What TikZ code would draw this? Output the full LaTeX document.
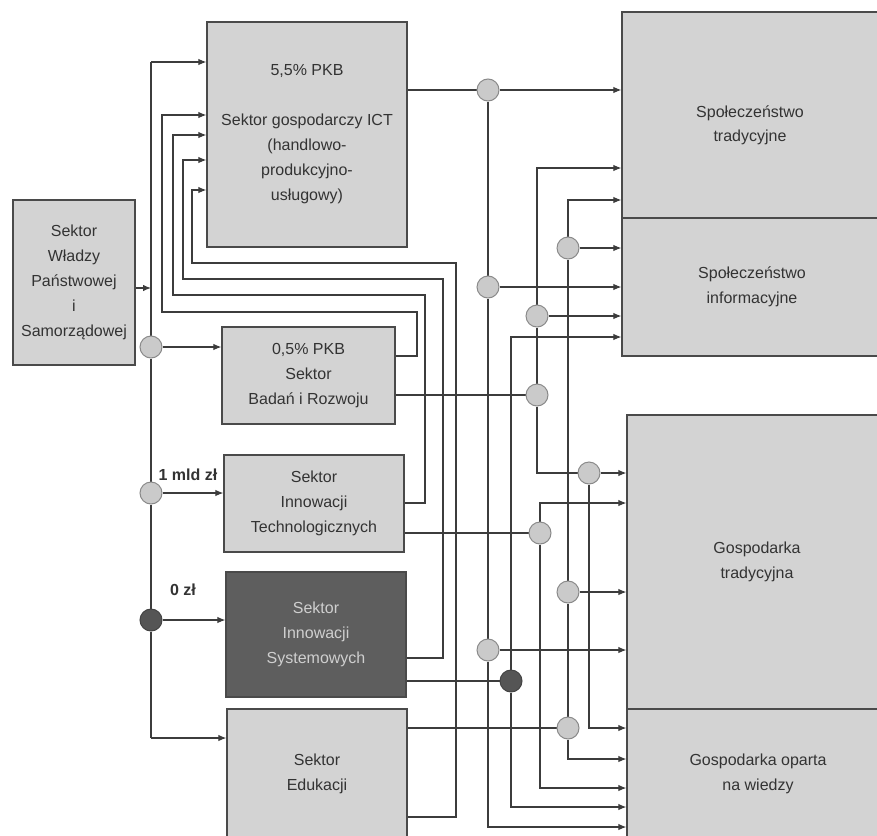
\documentclass[tikz,border=0pt]{standalone}
\usepackage{fontspec}
\setmainfont{Liberation Sans}
\usetikzlibrary{arrows.meta,backgrounds}
\pgfdeclarelayer{bottom}
\pgfsetlayers{bottom,background,main}
\definecolor{ln}{HTML}{3C3C3C}
\definecolor{boxfill}{HTML}{D3D3D3}
\definecolor{boxline}{HTML}{4A4A4A}
\definecolor{darkfill}{HTML}{5E5E5E}
\definecolor{txt}{HTML}{333333}
\definecolor{lighttxt}{HTML}{CFCFCF}
\definecolor{circfill}{HTML}{CACACA}
\definecolor{circline}{HTML}{8A8A8A}
\definecolor{darkcirc}{HTML}{555555}
\begin{document}
\begin{tikzpicture}[x=1pt,y=-1pt,
  box/.style={rectangle,draw=boxline,fill=boxfill,line width=1.3pt,inner sep=0pt,
    text=txt,align=center,font=\fontsize{16}{25}\selectfont},
  darkbox/.style={box,fill=darkfill,text=lighttxt},
  circ/.style={circle,draw=circline,fill=circfill,line width=1pt,minimum size=22pt,inner sep=0pt},
  darkcircnode/.style={circ,fill=darkcirc,draw=darkcirc!80!black},
  con/.style={draw=ln,line width=1.1pt},
  arr/.style={con,-{Latex[length=8pt,width=6.5pt]}},
  amount/.style={text=txt,font=\bfseries\fontsize{16}{18}\selectfont,inner sep=0pt}]
\useasboundingbox (0,0) rectangle (877,835);
\clip (0,0) rectangle (877,835);
\begin{pgfonlayer}{bottom}
\fill[white] (0,0) rectangle (877,835);
\end{pgfonlayer}

% ---- left-hand boxes
\node[box,minimum width=200pt,minimum height=225pt] (ict) at (307,134.5)
  {5,5\% PKB\\[25pt]Sektor gospodarczy ICT\\(handlowo-\\produkcyjno-\\usługowy)};
\node[box,minimum width=122pt,minimum height=165pt] (gov) at (74,282.5)
  {Sektor\\Władzy\\Państwowej\\i\\Samorządowej};
\node[box,minimum width=173pt,minimum height=97pt] (rd) at (308.5,375.5)
  {0,5\% PKB\\Sektor\\Badań i Rozwoju};
\node[box,minimum width=180pt,minimum height=97pt] (inn) at (314,503.5)
  {Sektor\\Innowacji\\Technologicznych};
\node[darkbox,minimum width=180pt,minimum height=125pt] (sys) at (316,634.5)
  {Sektor\\Innowacji\\Systemowych};
\node[box,minimum width=180pt,minimum height=129pt] (edu) at (317,773.5)
  {Sektor\\Edukacji};

% ---- right-hand boxes
\node[box,minimum width=256pt,minimum height=206pt,
  label={[yshift=-10pt,align=center,text=txt,font=\fontsize{16}{24}\selectfont]center:Społeczeństwo\\tradycyjne}]
  (st) at (750,115) {};
\node[box,minimum width=260pt,minimum height=138pt] (si) at (752,287)
  {Społeczeństwo\\informacyjne};
\node[box,minimum width=260pt,minimum height=294pt] (gt) at (757,562)
  {Gospodarka\\tradycyjna};
\node[box,minimum width=262pt,minimum height=129pt] (go) at (758,773.5)
  {Gospodarka oparta\\na wiedzy};

% ---- junction circles
\node[circ] (cL1) at (151,347) {};
\node[circ] (cL2) at (151,493) {};
\node[darkcircnode] (cL3) at (151,620) {};
\node[circ] (cR1) at (488,90) {};
\node[circ] (cR2) at (488,287) {};
\node[circ] (cR3) at (488,650) {};
\node[circ] (cR4) at (537,395) {};
\node[circ] (cR5) at (537,316) {};
\node[circ] (cR6) at (589,473) {};
\node[circ] (cR7) at (540,533) {};
\node[darkcircnode] (cR8) at (511,681) {};
\node[circ] (cR9) at (568,728) {};
\node[circ] (cR10) at (568,592) {};
\node[circ] (cR11) at (568,248) {};

% ---- amount labels
\node[amount] (lab1) at (188,475) {1 mld zł};
\node[amount] (lab0) at (183,590) {0 zł};

% ---- bend points
\coordinate (tTop) at (151,62);
\coordinate (tBot) at (151,738);
\coordinate (tGov) at (151,288);
\coordinate (f1a) at (417,356); \coordinate (f1b) at (162,312); \coordinate (f1c) at (162,115);
\coordinate (f2a) at (425,503); \coordinate (f2b) at (173,295); \coordinate (f2c) at (173,135);
\coordinate (f3a) at (443,658); \coordinate (f3b) at (183,279); \coordinate (f3c) at (183,160);
\coordinate (f4a) at (456,817); \coordinate (f4b) at (192,263); \coordinate (f4c) at (192,190);
\coordinate (e1) at (488,827);
\coordinate (r1) at (537,168);
\coordinate (r2) at (537,473);
\coordinate (r3) at (589,728);
\coordinate (i1) at (540,503);
\coordinate (i2) at (540,788);
\coordinate (s1) at (511,337);
\coordinate (s2) at (511,807);
\coordinate (u1) at (568,200);
\coordinate (u2) at (568,759);

\begin{pgfonlayer}{background}
% trunk on the left
\draw[arr] (gov.east |- tGov) -- (tGov);
\draw[con] (tTop) -- (cL1);
\draw[con] (cL1) -- (cL2);
\draw[con] (cL2) -- (cL3);
\draw[con] (cL3) -- (tBot);
\draw[arr] (tTop) -- (tTop -| ict.west);
\draw[arr] (cL1) -- (cL1 -| rd.west);
\draw[arr] (cL2) -- (cL2 -| inn.west);
\draw[arr] (cL3) -- (cL3 -| sys.west);
\draw[arr] (tBot) -- (tBot -| edu.west);

% feedback into the ICT sector
\draw[arr] (rd.east |- f1a) -- (f1a) |- (f1b) -- (f1c) -- (f1c -| ict.west);
\draw[arr] (inn.east |- f2a) -- (f2a) |- (f2b) -- (f2c) -- (f2c -| ict.west);
\draw[arr] (sys.east |- f3a) -- (f3a) |- (f3b) -- (f3c) -- (f3c -| ict.west);
\draw[arr] (edu.east |- f4a) -- (f4a) |- (f4b) -- (f4c) -- (f4c -| ict.west);

% ICT outputs
\draw[con] (ict.east |- cR1) -- (cR1);
\draw[arr] (cR1) -- (cR1 -| st.west);
\draw[con] (cR1) -- (cR2);
\draw[arr] (cR2) -- (cR2 -| si.west);
\draw[con] (cR2) -- (cR3);
\draw[arr] (cR3) -- (cR3 -| gt.west);
\draw[arr] (cR3) -- (e1) -- (e1 -| go.west);

% R&D outputs
\draw[con] (rd.east |- cR4) -- (cR4);
\draw[con] (cR4) -- (cR5);
\draw[arr] (cR5) -- (cR5 -| si.west);
\draw[arr] (cR5) -- (r1) -- (r1 -| st.west);
\draw[con] (cR4) -- (r2) -- (cR6);
\draw[arr] (cR6) -- (cR6 -| gt.west);
\draw[arr] (cR6) -- (r3) -- (r3 -| go.west);

% technological innovation outputs
\draw[con] (inn.east |- cR7) -- (cR7);
\draw[arr] (cR7) -- (i1) -- (i1 -| gt.west);
\draw[arr] (cR7) -- (i2) -- (i2 -| go.west);

% systemic innovation outputs
\draw[con] (sys.east |- cR8) -- (cR8);
\draw[arr] (cR8) -- (s1) -- (s1 -| si.west);
\draw[arr] (cR8) -- (s2) -- (s2 -| go.west);

% education outputs
\draw[con] (edu.east |- cR9) -- (cR9);
\draw[con] (cR9) -- (cR10);
\draw[arr] (cR10) -- (cR10 -| gt.west);
\draw[con] (cR10) -- (cR11);
\draw[arr] (cR11) -- (cR11 -| si.west);
\draw[arr] (cR11) -- (u1) -- (u1 -| st.west);
\draw[arr] (cR9) -- (u2) -- (u2 -| go.west);
\end{pgfonlayer}
\end{tikzpicture}
\end{document}
